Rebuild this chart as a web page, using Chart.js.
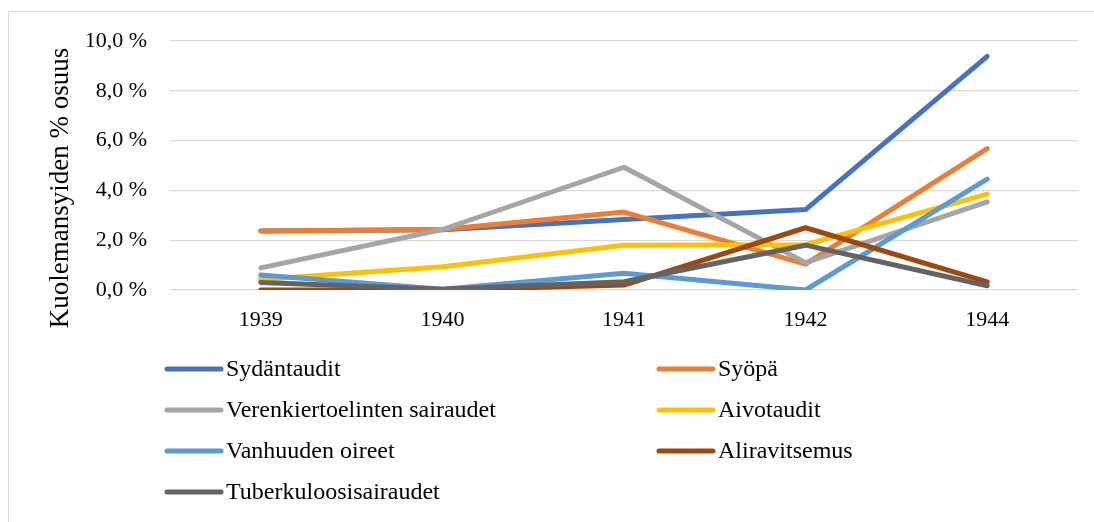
<!DOCTYPE html>
<html>
<head>
<meta charset="utf-8">
<script src="https://cdn.jsdelivr.net/npm/chart.js@4/dist/chart.umd.min.js"></script>
<style>
  html, body { margin: 0; padding: 0; background: #fff; }
  #wrap { width: 1094px; height: 522px; position: relative; }
</style>
</head>
<body>
<div id="wrap"><canvas id="c" width="1094" height="522"></canvas></div>
<script>
const years = ['1939', '1940', '1941', '1942', '1944'];
const yTickLabels = ['0,0 %', '2,0 %', '4,0 %', '6,0 %', '8,0 %', '10,0 %'];
const yTitle = 'Kuolemansyiden % osuus';

const seriesNames = ['Sydäntaudit', 'Syöpä', 'Verenkiertoelinten sairaudet', 'Aivotaudit', 'Vanhuuden oireet', 'Aliravitsemus', 'Tuberkuloosisairaudet'];
const sydantaudit   = [2.37, 2.42, 2.83, 3.23, 9.38];
const syopa         = [2.37, 2.43, 3.13, 1.04, 5.68];
const verenkierto   = [0.89, 2.43, 4.93, 1.10, 3.54];
const aivotaudit    = [0.42, 0.93, 1.80, 1.82, 3.85];
const vanhuus       = [0.60, 0.03, 0.67, 0.00, 4.45];
const aliravitsemus = [0.00, 0.00, 0.20, 2.50, 0.33];
const tuberkuloosi  = [0.30, 0.03, 0.33, 1.80, 0.17];
const seriesValues = [sydantaudit, syopa, verenkierto, aivotaudit, vanhuus, aliravitsemus, tuberkuloosi];
const seriesColors = ['#4472C4', '#ED7D31', '#A5A5A5', '#FFC000', '#5B9BD5', '#9E480E', '#636363'];

const FONT = "'Liberation Serif', 'Times New Roman', serif";

const framePlugin = {
  id: 'frame',
  beforeDraw(chart) {
    const ctx = chart.ctx;
    ctx.save();
    ctx.fillStyle = '#fff';
    ctx.fillRect(0, 0, chart.width, chart.height);
    ctx.strokeStyle = '#D9D9D9';
    ctx.lineWidth = 1;
    ctx.strokeRect(8.5, 11.5, 1200, 600);
    ctx.restore();
  },
  afterDraw(chart) {
    const ctx = chart.ctx;
    // y axis title
    ctx.save();
    ctx.fillStyle = '#000';
    ctx.font = '27px ' + FONT;
    ctx.textAlign = 'center';
    ctx.textBaseline = 'middle';
    ctx.translate(61, 188);
    ctx.rotate(-Math.PI / 2);
    ctx.fillText(yTitle, 0, 0);
    ctx.restore();
    // legend
    const colX = [165, 657];
    const rowY = [369, 410, 451, 492];
    ctx.save();
    ctx.font = '24px ' + FONT;
    ctx.textBaseline = 'middle';
    ctx.textAlign = 'left';
    chart.data.datasets.forEach((ds, i) => {
      const x = colX[i % 2];
      const y = rowY[Math.floor(i / 2)];
      ctx.strokeStyle = ds.borderColor;
      ctx.lineWidth = 5;
      ctx.lineCap = 'round';
      ctx.beginPath();
      ctx.moveTo(x + 2, y);
      ctx.lineTo(x + 56, y);
      ctx.stroke();
      ctx.fillStyle = '#000';
      ctx.fillText(ds.label, x + 61, y + 1);
    });
    ctx.restore();
  }
};

const datasets = seriesNames.map((name, i) => ({
  label: name,
  data: seriesValues[i],
  borderColor: seriesColors[i],
  backgroundColor: seriesColors[i],
  borderWidth: 5,
  borderCapStyle: 'round',
  borderJoinStyle: 'round',
  pointRadius: 0,
  pointHoverRadius: 0,
  tension: 0,
  fill: false,
  order: seriesNames.length - i
}));

new Chart(document.getElementById('c'), {
  type: 'line',
  data: { labels: years, datasets },
  plugins: [framePlugin],
  options: {
    responsive: false,
    animation: false,
    events: [],
    layout: { padding: { left: 0, right: 16, top: 41, bottom: 182 } },
    plugins: { legend: { display: false }, tooltip: { enabled: false }, title: { display: false } },
    scales: {
      x: {
        type: 'category',
        offset: true,
        grid: { display: false, drawTicks: false },
        border: { display: false },
        ticks: { color: '#000', font: { family: FONT, size: 22 }, padding: 17, maxRotation: 0, autoSkip: false },
        afterFit(scale) { scale.height = 50; }
      },
      y: {
        min: 0,
        max: 10,
        grid: { color: '#D9D9D9', lineWidth: 1.3, drawTicks: false },
        border: { display: false },
        ticks: {
          stepSize: 2,
          color: '#000',
          font: { family: FONT, size: 22 },
          padding: 23,
          callback: (v, idx) => yTickLabels[idx]
        },
        afterFit(scale) { scale.width = 170; }
      }
    }
  }
});
</script>
</body>
</html>
